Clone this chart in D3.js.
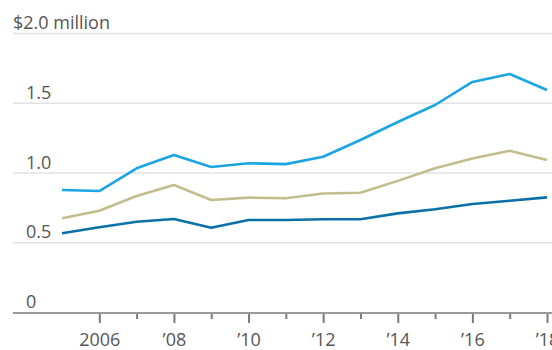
<!DOCTYPE html>
<html>
<head>
<meta charset="utf-8">
<script src="https://cdn.jsdelivr.net/npm/d3@7"></script>
<style>
  body { margin: 0; background: #fff; }
  svg text { font-family: "Open Sans", "Liberation Sans", sans-serif; fill: #555; }
</style>
</head>
<body>
<div class="chart"></div>
<script>
// values in $ million, 2005-2018
var years = d3.range(2005, 2019);
var topSeries = [0.875, 0.867, 1.03, 1.125, 1.04, 1.066, 1.06, 1.113, 1.233, 1.362, 1.484, 1.649, 1.706, 1.591];
var midSeries = [0.672, 0.726, 0.832, 0.91, 0.803, 0.82, 0.815, 0.85, 0.855, 0.94, 1.03, 1.10, 1.156, 1.09];
var lowSeries = [0.564, 0.607, 0.647, 0.667, 0.604, 0.66, 0.66, 0.665, 0.665, 0.707, 0.736, 0.774, 0.798, 0.822];
var yTicks = [0, 0.5, 1.0, 1.5, 2.0];
var yTickLabels = ["0", "0.5", "1.0", "1.5", "$2.0 million"];
var xTickYears = d3.range(2006, 2019);

var width = 552, height = 350;

let svg = d3.select(".chart").append("svg")
    .attr("width", width)
    .attr("height", height);

let x = d3.scaleLinear().domain([2005, 2018]).range([62, 547]);
let y = d3.scaleLinear().domain([0, 2]).range([312, 33]);

// gridlines
svg.selectAll(".grid")
    .data(yTicks.filter(d => d > 0))
    .enter().append("line")
    .attr("x1", 13).attr("x2", width)
    .attr("y1", d => y(d) + 0.5).attr("y2", d => y(d) + 0.5)
    .attr("stroke", "#e2e2e2")
    .attr("stroke-width", 1.5);

// y labels
svg.selectAll(".ylab")
    .data(yTicks)
    .enter().append("text")
    .attr("x", (d, i) => i == yTicks.length - 1 ? 13 : 26)
    .attr("y", d => y(d) - 4)
    .attr("font-size", 18)
    .text((d, i) => yTickLabels[i]);

// x axis
let xAxis = d3.axisBottom(x)
    .tickValues(xTickYears)
    .tickSize(10)
    .tickFormat(d => d % 2 == 0 ? (d == 2006 ? "2006" : "\u2019" + String(d).slice(2)) : "");

let gx = svg.append("g")
    .attr("transform", "translate(0," + 313 + ")")
    .call(xAxis);

gx.select(".domain").remove();
gx.selectAll(".tick line")
    .attr("stroke", "#7a7a7a")
    .attr("stroke-width", 2)
    .attr("y2", d => d % 2 == 0 ? 10 : 6);
gx.selectAll(".tick text")
    .attr("y", 20)
    .attr("font-size", 18)
    .attr("font-family", "Open Sans, Liberation Sans, sans-serif")
    .attr("fill", "#555");

svg.append("line")
    .attr("x1", 13).attr("x2", width)
    .attr("y1", 313).attr("y2", 313)
    .attr("stroke", "#9a9a9a")
    .attr("stroke-width", 2);

// lines
let line = d3.line()
    .x((d, i) => x(years[i]))
    .y(d => y(d));

var series = [
    { vals: midSeries, color: "#c3bd8d" },
    { vals: lowSeries, color: "#0b70a8" },
    { vals: topSeries, color: "#1ba5e3" }
];

series.forEach(function (s) {
    svg.append("path")
        .attr("d", line(s.vals))
        .attr("fill", "none")
        .attr("stroke", s.color)
        .attr("stroke-width", 2.6)
        .attr("stroke-linejoin", "round");
});
</script>
</body>
</html>
